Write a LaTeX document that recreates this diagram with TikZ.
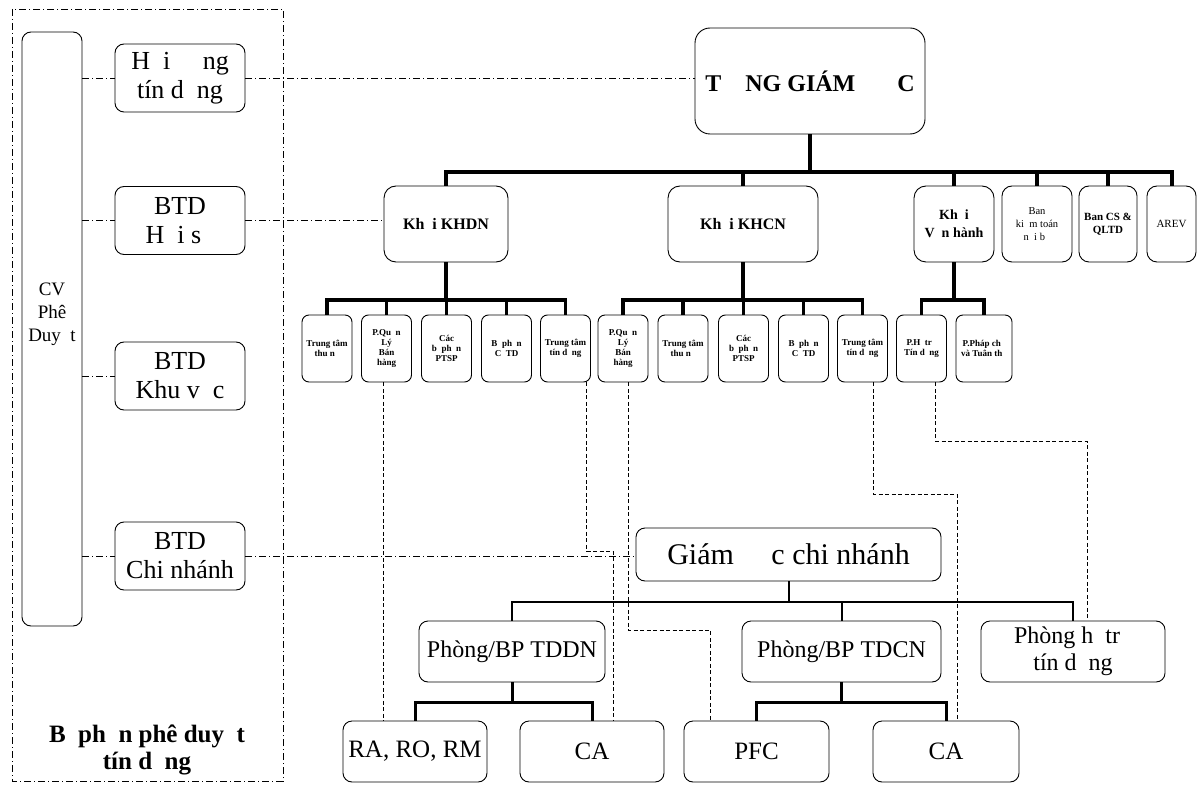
\documentclass[tikz,border=0pt]{standalone}
\usepackage{fontspec}
\setmainfont{Liberation Serif}
\usetikzlibrary{calc}
% missing glyph gap and font size
\newcommand{\thieu}{\hspace*{0.5em}}
\newcommand{\cochu}[2]{\fontsize{#1}{#2}\selectfont}

\begin{document}
\begin{tikzpicture}[x=1pt,y=-1pt,
    hop/.style={draw, rounded corners=#1, line width=0.9pt, align=center, inner sep=0pt},
    hop/.default=8pt,
    phong/.style={hop=7pt, minimum width=50pt, minimum height=67pt, font=\bfseries\cochu{9}{10}},
    nhanh/.style={line width=#1},
    chamgach/.style={line width=0.8pt, dash pattern=on 7pt off 3pt on 1pt off 3pt},
    netdut/.style={line width=0.8pt, dash pattern=on 4pt off 2.5pt}]
    \useasboundingbox (0,0) rectangle (1201,786);
    % Credit approval block
    \draw[chamgach] (12,9) rectangle (283,781);
    \node[hop=9pt, minimum width=60pt, minimum height=594pt] (cv) at (52,329) {};
    \node[font=\cochu{19}{23}, align=center] (cvchu) at (52,314) {CV\\Phê\\Duy\thieu t};
    \node[hop=9pt, minimum width=130pt, minimum height=68pt, font=\cochu{26}{29}] (hdtd) at (180,78) {H\thieu i \thieu\thieu ng\\tín d\thieu ng};
    \node[hop=9pt, minimum width=130pt, minimum height=68pt, font=\cochu{26}{29}] (btdhs) at (180,220.5) {BTD\\H\thieu i s\thieu};
    \node[hop=9pt, minimum width=130pt, minimum height=68pt, font=\cochu{26}{29}] (btdkv) at (180,376) {BTD\\Khu v\thieu c};
    \node[hop=9pt, minimum width=130pt, minimum height=68pt, font=\cochu{26}{29}] (btdcn) at (180,556) {BTD\\Chi nhánh};
    \node[font=\bfseries\cochu{25}{27}, align=center] (bpduyet) at (147,750) {B\thieu ph\thieu n phê duy\thieu t\\tín d\thieu ng};
    \foreach \hs in {hdtd,btdhs,btdkv,btdcn}
      \draw[chamgach] (cv.east |- \hs.west) -- (\hs.west);

    % Head office
    \node[hop=15pt, minimum width=230pt, minimum height=106pt, font=\bfseries\cochu{24}{28}] (tgd) at (810,81) {T\thieu\thieu NG GIÁM \thieu\thieu\thieu C};
    \node[hop=12pt, minimum width=124pt, minimum height=76pt, font=\bfseries\cochu{16}{19}] (khdn) at (446,224) {Kh\thieu i KHDN};
    \node[hop=12pt, minimum width=150pt, minimum height=76pt, font=\bfseries\cochu{16}{19}] (khcn) at (743,224) {Kh\thieu i KHCN};
    \node[hop=12pt, minimum width=80pt, minimum height=76pt, font=\bfseries\cochu{14}{18}] (vanhanh) at (954,224) {Kh\thieu i\\V\thieu n hành};
    \node[hop=10pt, minimum width=70pt, minimum height=76pt, font=\cochu{10.5}{13}] (bankt) at (1037,224) {Ban\\ki\thieu m toán\\n\thieu i b\thieu};
    \node[hop=10pt, minimum width=58pt, minimum height=76pt, font=\bfseries\cochu{11}{13}] (bancs) at (1108,224) {Ban CS \&\\QLTD};
    \node[hop=10pt, minimum width=49pt, minimum height=76pt, font=\cochu{11}{13}] (arev) at (1171.5,224) {AREV};
    \coordinate (bus1) at (0,172);
    \draw[nhanh=4pt] (tgd.south) -- (tgd.south |- bus1);
    \foreach \con in {khdn,khcn,vanhanh,bankt,bancs,arev}
      \draw[nhanh=4pt] (\con.north) |- (tgd.south |- bus1);

    % Departments
    \node[phong] (ttn1) at (327,348.5) {Trung tâm\\thu n\thieu};
    \node[phong] (qlbh1) at (386.5,348.5) {P.Qu\thieu n\\Lý\\Bán\\hàng};
    \node[phong] (ptsp1) at (446.5,348.5) {Các\\b\thieu ph\thieu n\\PTSP};
    \node[phong] (cdtd1) at (506.5,348.5) {B\thieu ph\thieu n\\C\thieu TD};
    \node[phong] (tttd1) at (565.5,348.5) {Trung tâm\\tín d\thieu ng};
    \node[phong] (qlbh2) at (623,348.5) {P.Qu\thieu n\\Lý\\Bán\\hàng};
    \node[phong] (ttn2) at (683,348.5) {Trung tâm\\thu n\thieu};
    \node[phong] (ptsp2) at (743.5,348.5) {Các\\b\thieu ph\thieu n\\PTSP};
    \node[phong] (cdtd2) at (803.5,348.5) {B\thieu ph\thieu n\\C\thieu TD};
    \node[phong] (tttd2) at (862.5,348.5) {Trung tâm\\tín d\thieu ng};
    \node[phong] (httd) at (921.5,348.5) {P.H\thieu tr\thieu\\Tín d\thieu ng};
    \node[phong, minimum width=56pt] (phapche) at (984,348.5) {P.Pháp ch\thieu\\và Tuân th\thieu};
    \coordinate (bus2) at (0,300);
    \draw[nhanh=3.5pt] (khdn.south) -- (khdn.south |- bus2);
    \foreach \con in {ttn1,qlbh1,ptsp1,cdtd1,tttd1}
      \draw[nhanh=3.5pt] (\con.north) |- (khdn.south |- bus2);
    \draw[nhanh=3.5pt] (khcn.south) -- (khcn.south |- bus2);
    \foreach \con in {qlbh2,ttn2,ptsp2,cdtd2,tttd2}
      \draw[nhanh=3.5pt] (\con.north) |- (khcn.south |- bus2);
    \draw[nhanh=3.5pt] (vanhanh.south) -- (vanhanh.south |- bus2);
    \foreach \con in {httd,phapche}
      \draw[nhanh=3.5pt] (\con.north) |- (vanhanh.south |- bus2);

    % Branch
    \node[hop=9pt, minimum width=305pt, minimum height=53pt, font=\cochu{30}{34}] (gdcn) at (788.5,554.5) {Giám \thieu\thieu c chi nhánh};
    \node[hop=9pt, minimum width=186pt, minimum height=61pt, font=\cochu{24}{27}] (tddn) at (512,651.5) {Phòng/BP TDDN};
    \node[hop=9pt, minimum width=199pt, minimum height=61pt, font=\cochu{24}{27}] (tdcn) at (841.5,651.5) {Phòng/BP TDCN};
    \node[hop=9pt, minimum width=184pt, minimum height=61pt, font=\cochu{24}{27}] (phtt) at (1073,651.5) {Phòng h\thieu tr\thieu\\tín d\thieu ng};
    \node[hop=9pt, minimum width=144pt, minimum height=61pt, font=\cochu{25}{27}] (raro) at (415,751.5) {RA, RO, RM};
    \node[hop=9pt, minimum width=144pt, minimum height=61pt, font=\cochu{25}{27}] (ca1) at (592,751.5) {CA};
    \node[hop=9pt, minimum width=145pt, minimum height=61pt, font=\cochu{25}{27}] (pfc) at (756.5,751.5) {PFC};
    \node[hop=9pt, minimum width=146pt, minimum height=61pt, font=\cochu{25}{27}] (ca2) at (946,751.5) {CA};
    \coordinate (bus3) at (0,602);
    \draw[nhanh=2pt] (gdcn.south) -- (gdcn.south |- bus3);
    \foreach \con in {tddn,tdcn,phtt}
      \draw[nhanh=2pt] (\con.north) |- (gdcn.south |- bus3);
    \coordinate (bus4) at (0,702);
    \draw[nhanh=3pt] (tddn.south) -- (tddn.south |- bus4);
    \foreach \con in {raro,ca1}
      \draw[nhanh=3pt] (\con.north) |- (tddn.south |- bus4);
    \draw[nhanh=3pt] (tdcn.south) -- (tdcn.south |- bus4);
    \foreach \con in {pfc,ca2}
      \draw[nhanh=3pt] (\con.north) |- (tdcn.south |- bus4);

    % Reporting lines
    \draw[chamgach] (hdtd.east) -- (hdtd.east -| tgd.west);
    \draw[chamgach] (btdhs.east) -- (btdhs.east -| khdn.west);
    \draw[chamgach] (btdcn.east) -- (btdcn.east -| gdcn.west);
    \draw[netdut] ([xshift=-3pt]qlbh1.south) -- ([xshift=-3pt]qlbh1.south |- raro.north);
    \draw[netdut] ([xshift=21pt]tttd1.south) -- ++(0,169) -| ([xshift=21pt]ca1.north);
    \draw[netdut] ([xshift=5pt]qlbh2.south) -- ++(0,248) -| ([xshift=-46pt]pfc.north);
    \draw[netdut] ([xshift=11pt]tttd2.south) -- ++(0,112) -| ([xshift=11pt]ca2.north);
    \draw[netdut] ([xshift=14pt]httd.south) -- ++(0,59) -| ([xshift=14pt]phtt.north);
\end{tikzpicture}
\end{document}
